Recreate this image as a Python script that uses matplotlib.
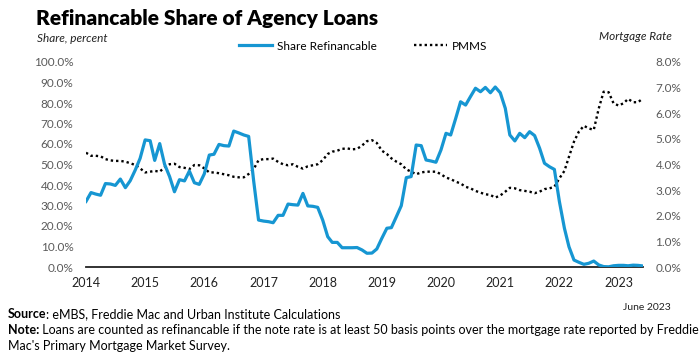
import matplotlib
matplotlib.use("Agg")
import matplotlib.pyplot as plt
from matplotlib.ticker import FuncFormatter, MultipleLocator
import pandas as pd

plt.rcParams['font.family'] = ['Lato', 'DejaVu Sans']

# monthly series, Jan 2014 - Jun 2023
share_refi = [32.0, 36.3, 35.6, 35.0, 40.7, 40.5, 39.8, 42.9, 38.7, 42.1, 47.3, 53.0,
              62.0, 61.6, 52.0, 60.2, 50.1, 44.1, 36.7, 42.6, 42.0, 46.8, 41.1, 40.3,
              45.4, 54.6, 55.0, 59.8, 59.2, 59.0, 66.3, 65.4, 64.4, 63.7, 41.9, 22.9,
              22.4, 22.1, 21.6, 25.2, 25.2, 30.7, 30.4, 30.2, 35.9, 29.8, 29.6, 29.1,
              22.9, 14.8, 12.0, 12.0, 9.4, 9.4, 9.4, 9.5, 8.3, 6.7, 6.8, 8.8,
              14.0, 18.9, 19.2, 24.6, 29.9, 43.6, 44.1, 59.5, 59.2, 52.2, 51.7, 51.1,
              57.1, 65.2, 64.4, 72.5, 80.6, 79.0, 83.1, 87.2, 85.5, 87.6, 85.0, 87.8,
              85.0, 77.4, 64.4, 61.5, 65.2, 63.1, 66.0, 64.1, 57.9, 50.6, 48.9, 47.6,
              31.9, 18.9, 9.9, 3.4, 2.3, 1.3, 1.8, 2.9, 1.0, 0.2, 0.1, 0.6,
              0.8, 0.8, 0.6, 0.9, 0.8, 0.5]

pmms = [4.46, 4.34, 4.34, 4.32, 4.21, 4.16, 4.14, 4.14, 4.11, 4.05, 3.98, 3.85,
        3.69, 3.72, 3.75, 3.72, 3.89, 4.01, 4.03, 3.90, 3.87, 3.82, 3.98, 3.97,
        3.85, 3.69, 3.69, 3.66, 3.62, 3.58, 3.52, 3.50, 3.50, 3.63, 3.82, 4.17,
        4.21, 4.21, 4.23, 4.10, 4.01, 3.97, 4.01, 3.91, 3.84, 3.93, 3.97, 4.01,
        4.17, 4.41, 4.50, 4.54, 4.61, 4.63, 4.59, 4.61, 4.74, 4.91, 4.95, 4.84,
        4.54, 4.41, 4.24, 4.11, 4.01, 3.81, 3.72, 3.62, 3.69, 3.72, 3.72, 3.72,
        3.62, 3.49, 3.43, 3.33, 3.26, 3.13, 3.07, 2.97, 2.90, 2.84, 2.81, 2.71,
        2.79, 2.94, 3.09, 3.07, 3.00, 2.97, 2.94, 2.88, 2.94, 3.04, 3.07, 3.13,
        3.46, 3.75, 4.30, 4.89, 5.28, 5.51, 5.41, 5.35, 6.19, 6.84, 6.82, 6.39,
        6.30, 6.39, 6.56, 6.43, 6.43, 6.58]

dates = pd.date_range('2014-01-01', periods=len(share_refi), freq='MS')
years = list(range(2014, 2024))

blue = '#1696d2'
grey = '#5a5a5a'

fig = plt.figure(figsize=(7, 3.55), dpi=100)
ax = fig.add_axes([86 / 700, 1 - 267 / 355, (643 - 86) / 700, (267 - 62) / 355])
ax2 = ax.twinx()

ax.plot(dates, share_refi, color=blue, lw=2.3, solid_joinstyle='round', zorder=3)
ax2.plot(dates, pmms, color='black', lw=1.7, linestyle=(0, (1, 1.25)))
ax.set_zorder(ax2.get_zorder() + 1)
ax.patch.set_visible(False)

ax.set_xlim(dates[0], dates[-1])
ax.set_ylim(0, 100)
ax2.set_ylim(0, 8)
ax.yaxis.set_major_locator(MultipleLocator(10))
ax2.yaxis.set_major_locator(MultipleLocator(1))
ax.yaxis.set_major_formatter(FuncFormatter(lambda v, p: f'{v:.1f}%'))
ax2.yaxis.set_major_formatter(FuncFormatter(lambda v, p: f'{v:.1f}%'))
ax.set_xticks([pd.Timestamp(f'{y}-01-01') for y in years])
ax.set_xticklabels([str(y) for y in years])

for a in (ax, ax2):
    for s in a.spines.values():
        s.set_visible(False)
ax.spines['bottom'].set_visible(True)
ax.spines['bottom'].set_linewidth(1.3)
ax.spines['bottom'].set_color('#222222')
ax.tick_params(axis='x', length=0, pad=7, labelsize=9, labelcolor='#222222')
ax.tick_params(axis='y', length=0, pad=9, labelsize=8.5, labelcolor=grey)
ax2.tick_params(axis='y', length=0, pad=9, labelsize=8.5, labelcolor=grey)

fig.text(36 / 700, 1 - 19 / 355, 'Refinancable Share of Agency Loans', fontsize=15,
         fontweight='heavy', va='center', ha='left')
fig.text(37 / 700, 1 - 38 / 355, 'Share, percent', fontsize=8.5, style='italic',
         va='center', ha='left', color='#222222')
fig.text(672 / 700, 1 - 37 / 355, 'Mortgage Rate', fontsize=8.5, style='italic',
         va='center', ha='right', color='#222222')

h1, = ax.plot([], [], color=blue, lw=2.3)
h2, = ax.plot([], [], color='black', lw=1.7, linestyle=(0, (1, 1.25)))
fig.legend([h1, h2], ['Share Refinancable', 'PMMS'], ncol=2, frameon=False,
           loc='center left', bbox_to_anchor=(239 / 700, 1 - 46 / 355),
           borderpad=0, borderaxespad=0, fontsize=8.5, handlelength=2.8,
           handletextpad=0.4, columnspacing=3.2)

fig.text(671 / 700, 1 - 308 / 355, 'June 2023', fontsize=7.5, ha='right', va='center',
         color='#222222')

foot = 9
src = fig.text(8 / 700, 1 - 320 / 355, 'Source', fontsize=foot, fontweight='bold', va='bottom')
plt.annotate(': eMBS, Freddie Mac and Urban Institute Calculations', xy=(1, 0),
             xycoords=src, fontsize=foot, va='bottom', ha='left')
note = fig.text(8 / 700, 1 - 336 / 355, 'Note:', fontsize=foot, fontweight='bold', va='bottom')
plt.annotate(' Loans are counted as refinancable if the note rate is at least 50 basis points '
             'over the mortgage rate reported by Freddie', xy=(1, 0), xycoords=note,
             fontsize=foot, va='bottom', ha='left')
fig.text(8 / 700, 1 - 352 / 355, "Mac's Primary Mortgage Market Survey.", fontsize=foot,
         va='bottom')

fig.savefig('out.png', dpi=100)
